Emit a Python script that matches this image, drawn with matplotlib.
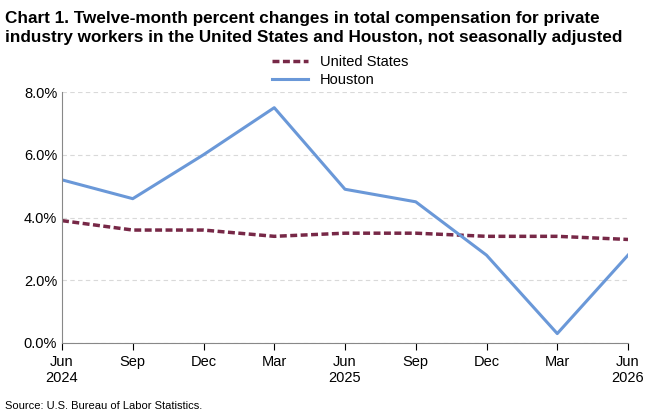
import matplotlib
matplotlib.use("Agg")
import matplotlib.pyplot as plt
from matplotlib.ticker import FuncFormatter

months = ["Jun\n2024", "Sep", "Dec", "Mar", "Jun\n2025", "Sep", "Dec", "Mar", "Jun\n2026"]
us = [3.9, 3.6, 3.6, 3.4, 3.5, 3.5, 3.4, 3.4, 3.3]
houston = [5.2, 4.6, 6.0, 7.5, 4.9, 4.5, 2.8, 0.3, 2.8]

plt.rcParams['font.family'] = ['Liberation Sans', 'DejaVu Sans']
fig = plt.figure(figsize=(6.68, 4.13), dpi=100)
ax = fig.add_axes([62/668, 1-343/413, (628-62)/668, (343-92)/413])
x = range(len(months))
ax.plot(x, us, color="#772847", lw=2.5, ls=(0, (2, 1)), label="United States")
ax.plot(x, houston, color="#6a98d8", lw=2.2, label="Houston")
ax.set_xlim(0, 8)
ax.set_ylim(0, 8)
ax.set_yticks([0, 2, 4, 6, 8])
ax.yaxis.set_major_formatter(FuncFormatter(lambda v, p: f"{v:.1f}%"))
ax.set_xticks(list(x))
ax.set_xticklabels(months)
ax.tick_params(labelsize=10.5, colors="black", length=4)
ax.tick_params(axis='y', length=0)
ax.tick_params(axis='x', direction='out', length=5)
ax.grid(axis='y', color="#d9d9d9", ls=(0, (4, 3)), lw=0.8)
for s in ["top", "right"]:
    ax.spines[s].set_visible(False)
for s in ["left", "bottom"]:
    ax.spines[s].set_color("#888888")
fig.text(5/668, 1-28/413, "Chart 1. Twelve-month percent changes in total compensation for private\nindustry workers in the United States and Houston, not seasonally adjusted",
         fontsize=12.3, fontweight="bold", va="center", ha="left", linespacing=1.4)
fig.legend(loc="center", bbox_to_anchor=(340/668, 1-71/413), frameon=False, fontsize=10.5,
           handlelength=2.5, labelspacing=0.3, borderpad=0)
fig.text(5/668, 1-406/413, "Source: U.S. Bureau of Labor Statistics.", fontsize=8, va="center")
fig.savefig("out.png", dpi=100)
